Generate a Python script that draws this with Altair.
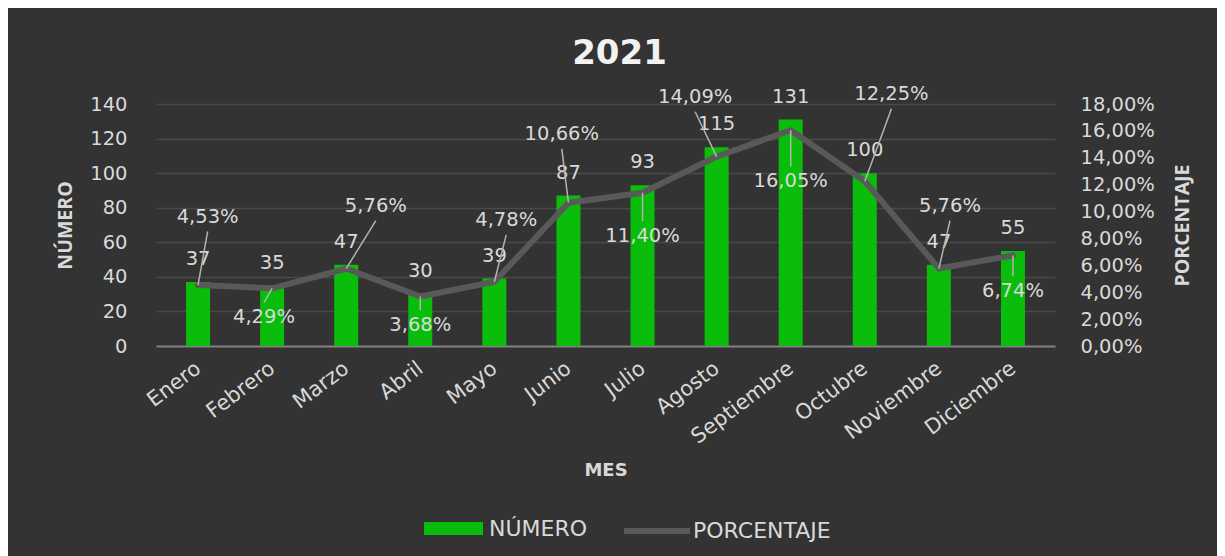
import json
import altair as alt
import pandas as pd

# ---------------- data ----------------
meses = ["Enero", "Febrero", "Marzo", "Abril", "Mayo", "Junio", "Julio",
         "Agosto", "Septiembre", "Octubre", "Noviembre", "Diciembre"]
numero = [37, 35, 47, 30, 39, 87, 93, 115, 131, 100, 47, 55]
porcentaje = [4.53, 4.29, 5.76, 3.68, 4.78, 10.66, 11.40, 14.09, 16.05, 12.25, 5.76, 6.74]
numero_ticks = [0, 20, 40, 60, 80, 100, 120, 140]
porcentaje_ticks = [0, 2, 4, 6, 8, 10, 12, 14, 16, 18]

# label placement of the percentage labels, relative to their point
# (months along x, percentage points along y)
pct_label_dx = [0.13, -0.11, 0.40, 0.0, 0.16, -0.09, 0.0, -0.29, 0.0, 0.36, 0.15, 0.0]
pct_label_dy = [5.1, -2.16, 4.66, -2.12, 4.59, 5.1, -3.2, 4.43, -3.8, 6.5, 4.66, -2.65]
leader_gap = 1.1  # percentage points between label centre and leader start

rows = []
for i, (m, n, p) in enumerate(zip(meses, numero, porcentaje)):
    lx = i + pct_label_dx[i]
    ly = p + pct_label_dy[i]
    sign = 1 if pct_label_dy[i] > 0 else -1
    rows.append({
        "mes": m, "idx": i, "numero": n, "pct": p,
        "lx": lx, "ly": ly,
        "sx": lx, "sy": ly - sign * leader_gap,
        "serie_bar": "NÚMERO", "serie_line": "PORCENTAJE",
    })
df = pd.DataFrame(rows)

FONT = "DejaVu Sans"
VFONT = "Open Sans"
TXT = "#d9d9d9"
GREEN = "#0bbd0b"
GREY = "#595959"
LBL = 19.5

x_axis = alt.Axis(
    values=list(range(len(meses))),
    labelExpr=json.dumps(meses) + "[datum.value]",
    title="MES", grid=False, ticks=False, labelOverlap=False,
    labelAngle=323, labelAlign="right", labelBaseline="middle",
    labelPadding=20, labelFontSize=21, labelColor=TXT, labelFont=FONT,
    domainColor="#808080", domainWidth=2,
    titleFont=FONT, titleFontSize=18, titleFontWeight="bold", titleColor=TXT,
    titlePadding=14,
)
x_scale = alt.Scale(domain=[-0.5, 11.5], nice=False, zero=False)

left_axis = alt.Axis(
    values=numero_ticks, title="NÚMERO", orient="left",
    grid=True, gridColor="#4a4a4a", gridWidth=1.3, domain=False, ticks=False,
    labelOverlap=False,
    labelPadding=29, labelFontSize=LBL, labelColor=TXT, labelFont=FONT,
    titleFont=VFONT, titleFontSize=19.5, titleFontWeight="bold", titleColor=TXT,
    titlePadding=14,
)
left_scale = alt.Scale(domain=[0, 140], nice=False)

right_axis = alt.Axis(
    values=porcentaje_ticks, title="PORCENTAJE", orient="right",
    labelExpr="replace(format(datum.value, '.2f'), '.', ',') + '%'",
    grid=False, domain=False, ticks=False, labelOverlap=False,
    labelPadding=25, labelFontSize=LBL, labelColor=TXT, labelFont=FONT,
    titleFont=VFONT, titleFontSize=19.5, titleFontWeight="bold", titleColor=TXT,
    titleAngle=270, titlePadding=38,
)
right_scale = alt.Scale(domain=[0, 18], nice=False)


def X(field):
    return alt.X(field, scale=x_scale, axis=x_axis)


def YL(field):
    return alt.Y(field, scale=left_scale, axis=left_axis)


def YR(field):
    return alt.Y(field, scale=right_scale, axis=right_axis)


base = alt.Chart(df)

bars = base.mark_bar(size=24).encode(
    x=X("idx:Q"),
    y=YL("numero:Q"),
    fill=alt.Fill("serie_bar:N", scale=alt.Scale(domain=["NÚMERO"], range=[GREEN]),
                  legend=alt.Legend(title=None, orient="none", legendX=268, legendY=395,
                                    symbolType="M-1,-0.22H1V0.22H-1Z", symbolSize=3481,
                                    symbolStrokeWidth=0, labelFontSize=22, labelColor=TXT,
                                    labelFont=FONT, labelOffset=6, padding=0)),
)
bar_text = base.mark_text(fontSize=LBL, font=FONT, color=TXT, dy=-23, baseline="middle").encode(
    x=X("idx:Q"), y=YL("numero:Q"), text="numero:Q"
)
left_layer = alt.layer(bars, bar_text)

line = base.mark_line(strokeWidth=6, strokeJoin="round", strokeCap="round").encode(
    x=X("idx:Q"), y=YR("pct:Q"),
    stroke=alt.Stroke("serie_line:N", scale=alt.Scale(domain=["PORCENTAJE"], range=[GREY]),
                      legend=alt.Legend(title=None, orient="none", legendX=465, legendY=391,
                                        symbolType="stroke", symbolSize=4356,
                                        symbolStrokeWidth=6, labelFontSize=22, labelColor=TXT,
                                        labelFont=FONT, labelOffset=0, padding=0)),
)
leaders = base.mark_rule(color="#b3b3b3", strokeWidth=1.5).encode(
    x=X("sx:Q"), y=YR("sy:Q"), x2="idx:Q", y2="pct:Q"
)
pct_text = base.mark_text(fontSize=LBL, font=FONT, color=TXT, baseline="middle").encode(
    x=X("lx:Q"), y=YR("ly:Q"),
    text=alt.Text("label:N"),
).transform_calculate(label="replace(format(datum.pct, '.2f'), '.', ',') + '%'")
right_layer = alt.layer(line, leaders, pct_text)

chart = alt.layer(left_layer, right_layer).resolve_scale(
    y="independent", fill="independent", stroke="independent"
).properties(
    width=899, height=242,
    title=alt.TitleParams("2021", fontSize=34, font=FONT, fontWeight="bold", color="#f2f2f2",
                          anchor="middle", dx=14, offset=13),
    autosize=alt.AutoSizeParams(type="none"),
    padding={"left": 148, "top": 96, "right": 162, "bottom": 210},
).configure(
    background="#333333",
).configure_axis(labelOverlap=False).configure_view(stroke=None)

chart.save("out.html", embed_options={"renderer": "svg", "actions": False})
